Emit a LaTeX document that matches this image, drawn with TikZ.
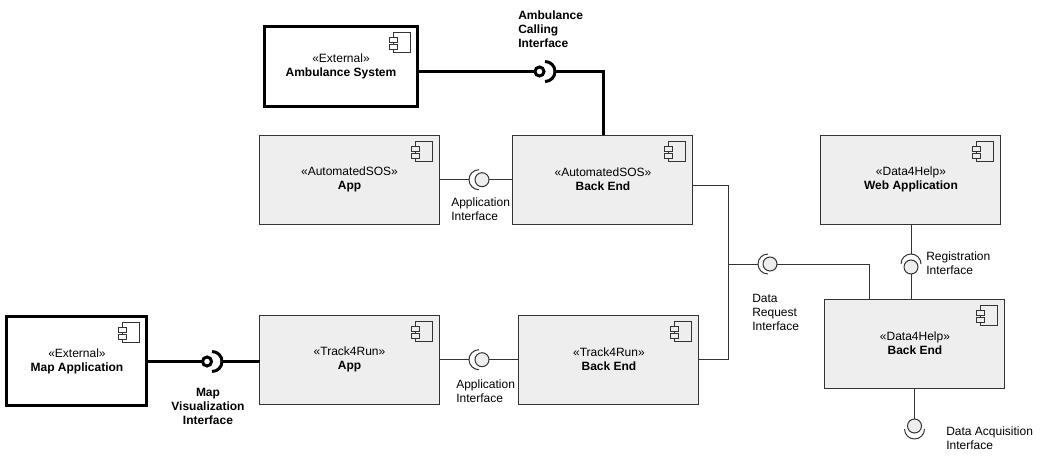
\documentclass[tikz,border=0pt]{standalone}
\usepackage{fontspec}
\setmainfont{Liberation Sans}
\usepackage{xcolor}
\usetikzlibrary{positioning}

\definecolor{compfill}{HTML}{EEEEEE}
\definecolor{compline}{HTML}{333333}

\tikzset{
    comp/.style={draw=compline, fill=compfill, line width=0.75pt, minimum width=135pt, minimum height=67pt, outer sep=0pt, inner sep=0pt, align=center, font=\fontsize{9pt}{10.5pt}\selectfont},
    extcomp/.style={comp, draw=black, fill=white, line width=2.25pt},
    wire/.style={draw=compline, line width=0.75pt},
    extwire/.style={draw=black, line width=2.25pt},
    ball/.style={circle, draw=compline, fill=compfill, line width=0.75pt, minimum size=10.5pt, inner sep=0pt, outer sep=0pt},
    extball/.style={circle, draw=black, fill=white, line width=2.25pt, minimum size=6.75pt, inner sep=0pt, outer sep=0pt},
    iflabel/.style={anchor=west, inner sep=0pt, align=left, font=\fontsize{9pt}{10.5pt}\selectfont},
}

% component glyph in the top right corner of a box
\newcommand{\compicon}[2]{
    \draw[wire, fill=#2] ([shift={(-18pt,-4.5pt)}]#1.north east) rectangle ([shift={(-5.25pt,-19.5pt)}]#1.north east);
    \draw[wire, fill=#2] ([shift={(-21pt,-8.25pt)}]#1.north east) rectangle ([shift={(-15pt,-12pt)}]#1.north east);
    \draw[wire, fill=#2] ([shift={(-21pt,-13.5pt)}]#1.north east) rectangle ([shift={(-15pt,-17.25pt)}]#1.north east);
}
% half circle whose middle is at #2, bulging towards angle #3
\newcommand{\socket}[3]{
    \draw[#1] (#2) arc[start angle=#3, delta angle=90, radius=7.5pt];
    \draw[#1] (#2) arc[start angle=#3, delta angle=-90, radius=7.5pt];
}

\begin{document}
\begin{tikzpicture}[x=0.75pt, y=-0.75pt]
    \useasboundingbox (0,0) rectangle (1049,457);

    \node[comp] (asosapp) at (349.5,179.7) {«AutomatedSOS»\\ \textbf{App}};
    \node[comp, right of=asosapp, node distance=190.1pt] (asosbe) {«AutomatedSOS»\\ \textbf{Back End}};
    \node[comp, below of=asosapp, node distance=135pt] (trackapp) {«Track4Run»\\ \textbf{App}};
    \node[comp, right of=trackapp, node distance=194.6pt] (trackbe) {«Track4Run»\\ \textbf{Back End}};
    \node[comp, right of=asosbe, node distance=231pt] (webapp) {«Data4Help»\\ \textbf{Web Application}};
    \node[comp, below of=webapp, node distance=123pt, xshift=3pt] (helpbe) {«Data4Help»\\ \textbf{Back End}};
    \node[extcomp, minimum width=114.75pt, minimum height=60pt] (ambsys) at (341,66.5) {«External»\\ \textbf{Ambulance System}};
    \node[extcomp, minimum width=105pt, left of=trackapp, node distance=204.4pt, yshift=-1.2pt] (mapapp) {«External»\\ \textbf{Map Application}};

    \foreach \name in {asosapp, asosbe, trackapp, trackbe, webapp, helpbe} {
        \compicon{\name}{compfill}
    }
    \foreach \name in {ambsys, mapapp} {
        \compicon{\name}{white}
    }

    % interfaces
    \node[extball] (ambball) at (539.5,71.5) {};
    \coordinate (ambsock) at (555,71.5);
    \coordinate (ambturn) at (603,71.5);
    \node[extball] (mapball) at (207,361.5) {};
    \coordinate (mapsock) at (222,361.5);
    \node[ball] (asosball) at (482,179.7) {};
    \coordinate (asossock) at (469,179.7);
    \node[ball] (trackball) at (482,359.7) {};
    \coordinate (tracksock) at (469,359.7);
    \node[ball] (reqball) at (770,264) {};
    \coordinate (reqsock) at (758,264);
    \coordinate (reqdrop) at (869,299);
    \node[ball] (regball) at (911,267) {};
    \coordinate (regsock) at (911,254);
    \node[ball] (acqball) at (914.5,426) {};
    \coordinate (acqsock) at (914.5,439);
    \coordinate (bustop) at (728,185);
    \coordinate (busbot) at (728,359.7);
    \coordinate (busmid) at (728,264);

    \socket{extwire}{ambsock}{0}
    \socket{extwire}{mapsock}{0}
    \socket{wire}{asossock}{180}
    \socket{wire}{tracksock}{180}
    \socket{wire}{reqsock}{180}
    \socket{wire}{regsock}{90}
    \socket{wire}{acqsock}{270}

    \draw[extwire] (ambsys.east |- ambball) -- (ambball);
    \draw[extwire] (ambsock) -- (ambturn) -- (asosbe.north -| ambturn);
    \draw[extwire] (mapapp.east |- mapball) -- (mapball);
    \draw[extwire] (mapsock) -- (trackapp.west |- mapsock);
    \draw[wire] (asosapp) -- (asossock);
    \draw[wire] (asosball) -- (asosbe);
    \draw[wire] (trackapp) -- (tracksock);
    \draw[wire] (trackball) -- (trackbe);
    \draw[wire] (asosbe.east |- bustop) -- (bustop) -- (busbot) -- (trackbe.east);
    \draw[wire] (busmid) -- (reqsock);
    \draw[wire] (reqball) -| (reqdrop);
    \draw[wire] (webapp.south -| regball) -- (regsock);
    \draw[wire] (regball) -- (helpbe.north -| regball);
    \draw[wire] (helpbe.south -| acqball) -- (acqball);

    % labels
    \node[iflabel] (amblabel) at (518,29) {\textbf{Ambulance}\\ \textbf{Calling}\\ \textbf{Interface}};
    \node[iflabel, anchor=center, align=center] (maplabel) at (208,406) {\textbf{Map}\\ \textbf{Visualization}\\ \textbf{Interface}};
    \node[iflabel] (asoslabel) at (451,209) {Application\\ Interface};
    \node[iflabel] (tracklabel) at (456,391) {Application\\ Interface};
    \node[iflabel] (reqlabel) at (752,312.5) {Data\\ Request\\ Interface};
    \node[iflabel] (reglabel) at (926,263) {Registration\\ Interface};
    \node[iflabel] (acqlabel) at (946,438) {Data Acquisition\\ Interface};
\end{tikzpicture}
\end{document}
